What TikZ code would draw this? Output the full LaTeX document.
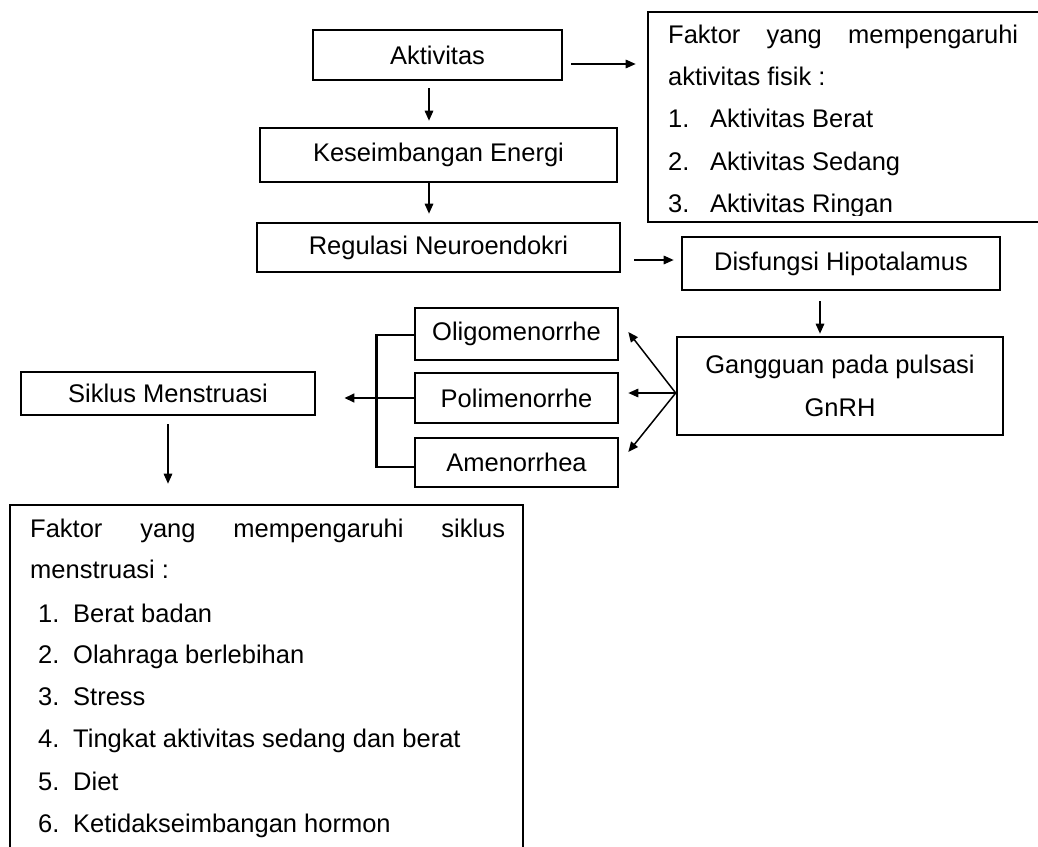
\documentclass[tikz,border=0pt]{standalone}
\usepackage{fontspec}
\setmainfont{Liberation Sans}
\usetikzlibrary{arrows.meta,calc}
\newcommand\diafont{\fontsize{25.5}{42.5}\selectfont}
\begin{document}
\begin{tikzpicture}[x=1pt,y=-1pt,
  box/.style={draw=black,line width=2.6pt,inner sep=0pt,font=\diafont,text=black},
  txt/.style={anchor=base west,inner sep=0pt,font=\diafont,text=black},
  arr/.style={-{Triangle[length=10pt,width=8.5pt]},line width=1.5pt},
  brk/.style={line width=2.6pt}]
\useasboundingbox (0,0) rectangle (1038,846);
\clip (0,0) rectangle (1038,846);
\fill[white] (0,0) rectangle (1038,846);

% boxes
\node[box,minimum width=249pt,minimum height=50pt] (akt) at (437.5,55) {Aktivitas};
\node[box,minimum width=402pt,minimum height=210pt] (fa) at (849,117) {};
\node[box,minimum width=357pt,minimum height=54pt] (kes) at (438.5,155) {Keseimbangan Energi};
\node[box,minimum width=363pt,minimum height=49pt] (reg) at (438.5,247.5) {Regulasi Neuroendokri};
\node[box,minimum width=318pt,minimum height=53pt] (dis) at (841,263.5) {Disfungsi Hipotalamus};
\node[box,minimum width=326pt,minimum height=98pt,align=center] (gan) at (840,386) {Gangguan pada pulsasi\\GnRH};
\node[box,minimum width=203pt,minimum height=52pt] (oli) at (516.5,334) {Oligomenorrhe};
\node[box,minimum width=203pt,minimum height=50pt] (pol) at (516.5,398) {Polimenorrhe};
\node[box,minimum width=203pt,minimum height=49pt] (ame) at (516.5,462.5) {Amenorrhea};
\node[box,minimum width=294pt,minimum height=43pt] (sik) at (168,393.5) {Siklus Menstruasi};
\node[box,minimum width=513pt,minimum height=380pt] (fb) at (266.5,695) {};

% text of the upper factor box
\begin{scope}
\clip (fa.north west) rectangle ($(fa.south east)+(0,-8)$);
\node[txt] (fa0) at (668,43) {\hbox to 350pt{Faktor\hfill yang\hfill mempengaruhi}};
\node[txt] (fa1) at (668,85) {aktivitas fisik :};
\node[txt] (fa2) at (668,127) {\makebox[42pt][l]{1.}Aktivitas Berat};
\node[txt] (fa3) at (668,170) {\makebox[42pt][l]{2.}Aktivitas Sedang};
\node[txt] (fa4) at (668,212) {\makebox[42pt][l]{3.}Aktivitas Ringan};
\end{scope}

% text of the lower factor box
\node[txt] (fb0) at (30,537) {\hbox to 475pt{Faktor\hfill yang\hfill mempengaruhi\hfill siklus}};
\node[txt] (fb1) at (30,578) {menstruasi :};
\node[txt] (fb2) at (38,622) {\makebox[35pt][l]{1.}Berat badan};
\node[txt] (fb3) at (38,663) {\makebox[35pt][l]{2.}Olahraga berlebihan};
\node[txt] (fb4) at (38,705) {\makebox[35pt][l]{3.}Stress};
\node[txt] (fb5) at (38,747) {\makebox[35pt][l]{4.}Tingkat aktivitas sedang dan berat};
\node[txt] (fb6) at (38,790) {\makebox[35pt][l]{5.}Diet};
\node[txt] (fb7) at (38,832) {\makebox[35pt][l]{6.}Ketidakseimbangan hormon};

% connectors
\draw[arr] ($(akt.east)+(8,9)$) -- ($(fa.west)+(-11,-53)$);
\draw[arr] ($(akt.south)+(-8.5,7)$) -- ($(kes.north)+(-9.5,-6)$);
\draw[arr] ($(kes.south)+(-9.5,0)$) -- ($(reg.north)+(-9.5,-8)$);
\draw[arr] ($(reg.east)+(13,12.5)$) -- ($(dis.west)+(-7,-3.5)$);
\draw[arr] ($(dis.south)+(-21,10)$) -- ($(gan.north)+(-20,-2)$);
\coordinate (gs) at ($(gan.west)+(0,7)$);
\draw[arr] (gs) -- ($(oli.east)+(9,-2)$);
\draw[arr] (gs) -- ($(pol.east)+(9,-5)$);
\draw[arr] (gs) -- ($(ame.east)+(9,-10.5)$);
\coordinate (br) at ($(pol.west)+(-37,0)$);
\draw[brk] ($(oli.west)+(0,1)$) -| (br) |- ($(ame.west)+(0,4.5)$);
\draw[arr,line width=2.6pt] (pol.west) -- ($(pol.west -| sik.east)+(28,0)$);
\draw[arr] ($(sik.south)+(0,8)$) -- ($(sik.south |- fb.north)+(0,-20)$);
\end{tikzpicture}
\end{document}
